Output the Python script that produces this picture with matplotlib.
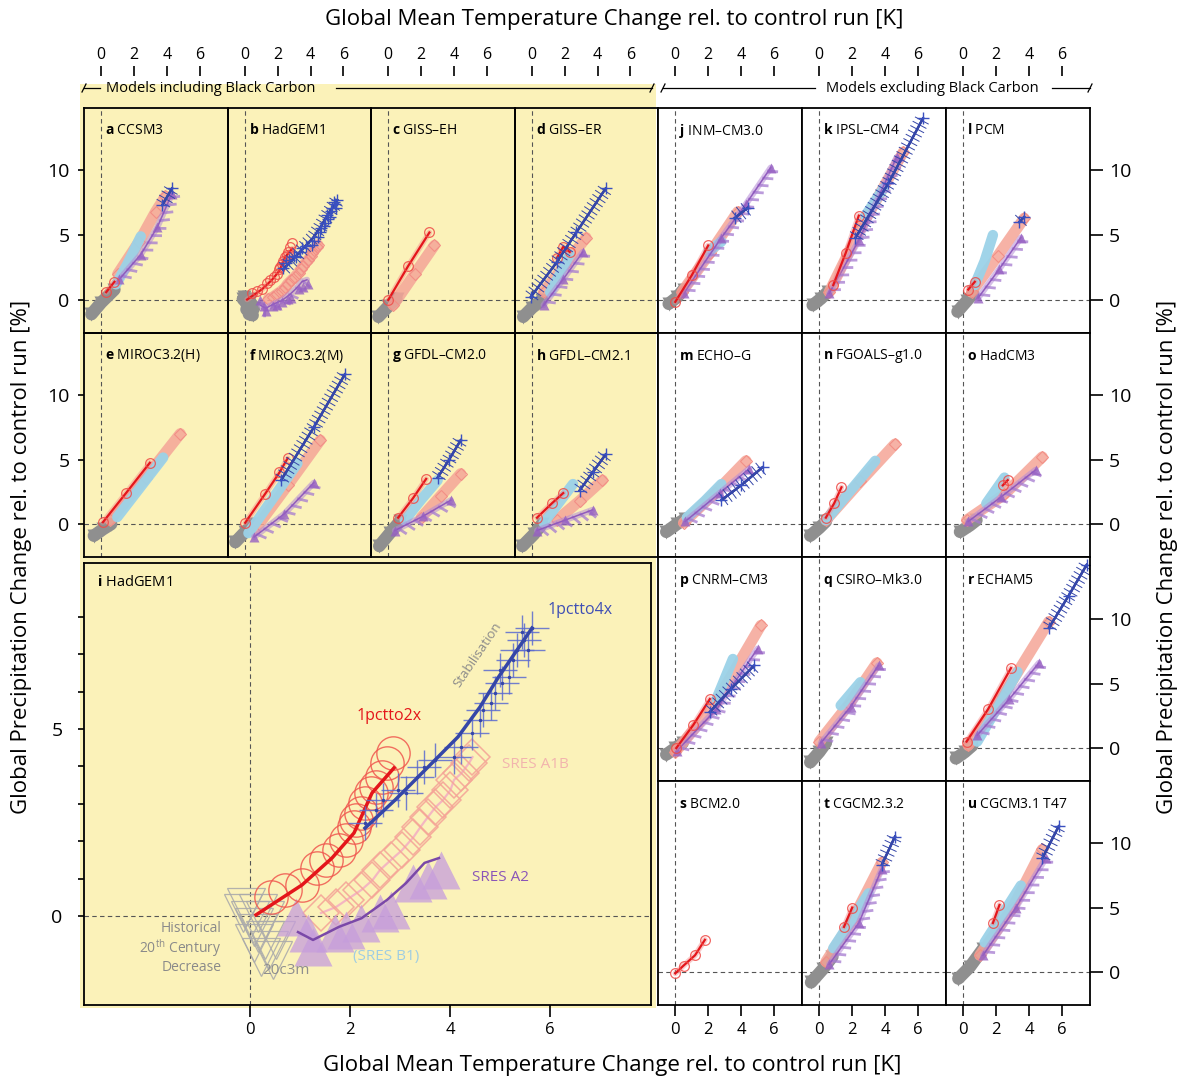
import matplotlib
matplotlib.use("Agg")
import matplotlib.pyplot as plt
from matplotlib import patheffects as pe

plt.rcParams['font.family'] = ['Open Sans', 'DejaVu Sans']
plt.rcParams['mathtext.fontset'] = 'custom'
plt.rcParams['mathtext.rm'] = 'Open Sans'
plt.rcParams['mathtext.bf'] = 'Open Sans:bold'

# model per panel
models = {'a': 'CCSM3', 'b': 'HadGEM1', 'c': 'GISS–EH', 'd': 'GISS–ER',
          'e': 'MIROC3.2(H)', 'f': 'MIROC3.2(M)', 'g': 'GFDL–CM2.0', 'h': 'GFDL–CM2.1',
          'j': 'INM–CM3.0', 'k': 'IPSL–CM4', 'l': 'PCM',
          'm': 'ECHO–G', 'n': 'FGOALS–g1.0', 'o': 'HadCM3',
          'p': 'CNRM–CM3', 'q': 'CSIRO–Mk3.0', 'r': 'ECHAM5',
          's': 'BCM2.0', 't': 'CGCM2.3.2', 'u': 'CGCM3.1 T47'}

# (dT [K], dP [%]) tracks per model and scenario
c20 = {
    'a': [(-0.6, -1.1), (0.0, -0.2), (0.8, 0.8)],
    'c': [(-0.6, -1.3), (0.0, -0.5), (0.5, 0.1)],
    'd': [(-0.55, -1.3), (0.0, -0.6), (0.6, 0.0)],
    'e': [(-0.45, -0.9), (0.1, -0.4), (0.6, 0.0)],
    'f': [(-0.6, -1.4), (0.0, -0.6), (0.5, 0.0)],
    'g': [(-0.55, -1.7), (0.1, -0.7), (0.7, 0.2)],
    'h': [(-0.6, -1.7), (0.1, -0.8), (0.6, 0.0)],
    'j': [(-0.4, -0.3), (0.1, 0.2), (0.5, 0.8)],
    'k': [(-0.4, -0.4), (0.1, 0.1), (0.5, 0.6)],
    'l': [(-0.35, -0.9), (0.2, -0.1), (0.6, 0.5)],
    'm': [(-0.55, -0.6), (0.1, 0.0), (0.6, 0.4)],
    'n': [(-0.55, -0.9), (0.0, -0.3), (0.4, 0.2)],
    'o': [(-0.2, -0.6), (0.4, -0.1), (0.8, 0.3)],
    'p': [(-0.55, -0.5), (0.0, 0.0), (0.45, 0.4)],
    'q': [(-0.55, -1.1), (0.0, -0.3), (0.4, 0.4)],
    'r': [(-0.45, -0.8), (0.1, -0.3), (0.55, 0.2)],
    't': [(-0.5, -0.8), (0.2, 0.2), (0.8, 1.2)],
    'u': [(-0.3, -0.5), (0.4, 0.4), (1.2, 1.8)],
}
pct2x = {
    'a': [(0.3, 0.6), (0.8, 1.4)],
    'c': [(0.0, 0.0), (1.2, 2.6), (2.5, 5.2)],
    'd': [(1.5, 3.2), (1.9, 4.1), (2.3, 3.7)],
    'e': [(0.1, 0.15), (1.5, 2.4), (2.95, 4.75)],
    'f': [(0.0, 0.1), (1.2, 2.3), (2.1, 4.0), (2.6, 5.1)],
    'g': [(0.6, 0.5), (1.5, 2.0), (2.3, 3.5)],
    'h': [(0.3, 0.5), (1.2, 1.6), (1.9, 2.4)],
    'j': [(0.0, -0.15), (1.0, 1.9), (2.0, 4.2)],
    'k': [(0.85, 1.15), (1.6, 3.6), (2.4, 6.5)],
    'l': [(0.3, 0.8), (0.7, 1.4)],
    'n': [(0.4, 0.5), (0.9, 1.6), (1.35, 2.85)],
    'o': [(2.4, 3.0), (2.7, 3.4)],
    'p': [(0.06, 0.0), (1.1, 1.8), (2.1, 3.8)],
    'r': [(0.2, 0.5), (1.5, 3.0), (2.9, 6.2)],
    's': [(0.0, -0.1), (0.5, 0.5), (1.2, 1.3), (1.8, 2.5)],
    't': [(1.5, 3.5), (2.0, 5.0)],
    'u': [(1.8, 3.8), (2.2, 5.2)],
}
pct4x = {
    'a': [(3.7, 7.3), (4.3, 8.6)],
    'd': [(-0.1, 0.2), (1.5, 2.9), (2.7, 5.2), (4.5, 8.6)],
    'f': [(2.2, 3.4), (4.2, 7.5), (6.1, 11.6)],
    'g': [(3.0, 3.6), (3.7, 5.0), (4.4, 6.5)],
    'h': [(2.9, 2.6), (3.7, 4.0), (4.5, 5.4)],
    'j': [(3.6, 6.3), (4.4, 7.1)],
    'k': [(2.2, 4.8), (4.2, 9.0), (6.3, 14.0)],
    'l': [(3.4, 6.0), (3.7, 6.4)],
    'm': [(2.8, 1.85), (4.0, 3.0), (5.3, 4.4)],
    'p': [(2.1, 2.8), (3.4, 4.6), (4.8, 6.4)],
    'r': [(5.2, 9.3), (6.4, 11.8), (7.5, 14.2)],
    't': [(3.8, 8.3), (4.6, 10.5)],
    'u': [(4.8, 8.8), (5.8, 11.3)],
}
a1b = {
    'a': [(1.0, 2.0), (2.3, 4.5), (3.3, 6.8), (3.9, 8.0)],
    'c': [(0.3, -0.4), (1.6, 2.0), (2.8, 4.2)],
    'd': [(0.7, 0.6), (2.0, 2.7), (3.3, 4.8)],
    'e': [(0.55, 0.3), (2.7, 3.6), (4.8, 7.0)],
    'f': [(0.55, -0.5), (2.6, 3.0), (4.6, 6.5)],
    'g': [(2.0, 0.5), (3.2, 2.2), (4.4, 3.9)],
    'h': [(1.5, 0.3), (2.9, 1.8), (4.3, 3.4)],
    'j': [(0.4, 0.6), (2.1, 3.6), (3.8, 6.8)],
    'k': [(0.6, 0.6), (2.5, 5.5), (5.1, 11.4)],
    'l': [(0.5, 0.6), (2.1, 3.4), (3.7, 6.3)],
    'm': [(0.5, 0.1), (2.4, 2.4), (4.3, 4.9)],
    'n': [(0.4, 0.3), (2.5, 3.3), (4.6, 6.2)],
    'o': [(0.2, 0.3), (2.5, 2.3), (4.8, 5.2)],
    'p': [(0.0, -0.3), (2.4, 3.4), (5.2, 9.5)],
    'q': [(0.0, 0.5), (1.8, 3.4), (3.5, 6.6)],
    'r': [(0.3, 0.2), (2.4, 4.0), (5.2, 9.8)],
    't': [(0.4, 0.8), (2.0, 4.0), (3.8, 8.5)],
    'u': [(1.0, 1.3), (3.0, 5.0), (4.8, 9.5)],
}
a2 = {
    'a': [(1.1, 1.6), (2.4, 3.5), (3.4, 5.6), (4.3, 8.2)],
    'd': [(0.7, -0.4), (1.9, 1.6), (3.1, 3.7)],
    'f': [(0.55, -1.0), (2.4, 0.8), (4.2, 3.2)],
    'g': [(0.4, -0.5), (2.1, 0.6), (3.8, 1.85)],
    'h': [(0.3, -0.5), (2.0, 0.3), (3.7, 1.1)],
    'j': [(0.5, 0.5), (2.8, 4.8), (4.3, 7.4), (5.8, 10.2)],
    'k': [(0.6, 0.5), (2.4, 4.6), (4.7, 11.0)],
    'l': [(0.9, 0.15), (2.2, 2.4), (3.5, 4.8)],
    'm': [(0.6, 0.2), (2.7, 2.4), (4.5, 4.3)],
    'o': [(0.3, 0.2), (2.3, 2.1), (4.4, 4.2)],
    'p': [(0.1, -0.2), (2.5, 3.0), (5.0, 7.7)],
    'q': [(0.1, 0.4), (1.9, 3.2), (3.6, 6.4)],
    'r': [(0.85, 1.0), (2.8, 3.8), (4.6, 6.6)],
    't': [(0.6, 0.6), (2.4, 3.8), (3.8, 8.0)],
    'u': [(1.2, 1.3), (3.2, 5.0), (5.0, 8.8)],
}
b1 = {
    'a': [(0.9, 1.2), (1.6, 2.8), (2.4, 4.9)],
    'd': [(1.1, 0.6), (1.7, 2.0), (2.3, 3.5)],
    'e': [(0.97, 0.54), (2.4, 2.9), (3.76, 5.15)],
    'f': [(0.2, -0.7), (1.7, 2.0), (3.2, 4.7)],
    'g': [(1.0, 0.3), (2.0, 1.9), (3.0, 3.4)],
    'h': [(0.7, 0.1), (1.6, 1.6), (2.5, 3.1)],
    'j': [(2.0, 3.7), (2.8, 4.5)],
    'k': [(2.8, 6.5), (3.9, 8.6)],
    'l': [(0.7, 1.15), (1.3, 3.0), (1.8, 5.0)],
    'm': [(0.7, 0.5), (1.8, 1.8), (2.8, 3.1)],
    'n': [(0.4, 0.3), (1.9, 2.6), (3.4, 4.9)],
    'o': [(1.4, 1.6), (2.5, 3.6)],
    'p': [(2.5, 3.8), (3.5, 6.9)],
    'q': [(1.3, 3.3), (2.5, 5.1)],
    'r': [(0.85, 0.5), (2.1, 3.2), (3.3, 5.9)],
    't': [(0.85, 1.85), (1.9, 3.9), (3.0, 6.1)],
    'u': [(1.3, 2.3), (2.4, 4.5), (3.5, 6.7)],
}

# HadGEM1 (panels b and i), one marker per decade
hg_c20 = [(-0.14, 0.07), (0.0, -0.12), (0.08, -0.29), (0.16, -0.46), (0.30, -0.64),
          (0.08, -0.73), (0.38, -0.91), (0.23, -1.09), (0.46, -1.18), (-0.07, 0.25),
          (0.16, 0.07), (0.30, -0.12), (0.52, -0.64)]
hg_x2_line = [(0.12, 0.03), (1.04, 0.83), (1.64, 1.55), (2.08, 2.22), (2.44, 3.29), (2.88, 3.96)]
hg_x2_pts = [(0.42, 0.51), (0.71, 0.70), (1.04, 0.83), (1.34, 1.28), (1.53, 1.50), (1.79, 1.76),
             (1.93, 2.03), (2.08, 2.38), (2.12, 2.57), (2.23, 2.75), (2.30, 3.02), (2.42, 3.29),
             (2.53, 3.45), (2.64, 3.72), (2.74, 4.09), (2.86, 4.36)]
hg_x4_line = [(2.30, 2.35), (2.9, 3.1), (3.64, 4.09), (4.16, 4.79), (4.6, 5.59), (4.97, 6.39),
              (5.34, 7.11), (5.64, 7.7)]
hg_x4_pts = [(2.30, 2.49), (2.52, 2.83), (2.67, 3.10), (2.97, 3.37), (3.12, 3.29), (3.34, 3.72),
             (3.49, 3.98), (3.71, 4.17), (4.08, 4.25), (4.23, 4.52), (4.45, 4.89), (4.60, 5.24),
             (4.67, 5.51), (4.82, 5.70), (4.90, 5.96), (5.04, 6.23), (5.01, 6.58), (5.19, 6.39),
             (5.27, 6.84), (5.34, 7.11), (5.49, 7.38), (5.56, 7.11), (5.64, 7.70), (5.45, 7.59)]
hg_a1b_pts = [(1.42, 0.08), (1.72, 0.24), (1.93, 0.43), (2.23, 0.70), (2.45, 0.96), (2.60, 1.23),
              (2.82, 1.50), (3.04, 1.76), (3.27, 2.11), (3.41, 2.38), (3.56, 2.65), (3.71, 2.91),
              (3.86, 3.10), (4.01, 3.37), (4.08, 3.64), (4.23, 3.82), (4.38, 4.09), (4.45, 4.25)]
hg_a2_line = [(0.96, -0.43), (1.26, -0.64), (1.78, -0.29), (2.23, -0.06), (2.74, 0.43),
              (3.12, 0.88), (3.49, 1.42), (3.78, 1.55)]
hg_a2_pts = [(0.93, -0.02), (1.16, -0.46), (1.27, -0.82), (1.71, -0.46), (1.93, -0.37),
             (2.23, -0.19), (2.60, 0.07), (2.82, 0.16), (3.27, 0.88), (3.56, 0.96), (3.82, 1.23)]

YELLOW = '#fbf2b9'
GREY = '#8f8f8f'
RED = '#e4161b'
BLUE = '#3546a8'
SALMON = '#f5a597'
PURPLE = '#8c55b8'
LBLUE = '#9bd2e8'

W, H = 1190, 1079
fig = plt.figure(figsize=(W / 100, H / 100), dpi=100)

bg = fig.add_axes([0, 0, 1, 1], zorder=0)
bg.set_xlim(0, W)
bg.set_ylim(H, 0)
bg.axis('off')
bg.add_patch(plt.Rectangle((80, 84), 576, 924, color=YELLOW, lw=0))


def px_axes(x0, y0, x1, y1, **kw):
    return fig.add_axes([x0 / W, 1 - y1 / H, (x1 - x0) / W, (y1 - y0) / H], zorder=1, **kw)


def xy(pts):
    return [p[0] for p in pts], [p[1] for p in pts]


def ribbon(ax, pts, color, lw, alpha=1.0):
    x, y = xy(pts)
    ax.plot(x, y, color=color, lw=lw, alpha=alpha, solid_capstyle='round',
            solid_joinstyle='round')


# "+" chains and triangle fringes along the small-panel tracks
cross_fx = [pe.withTickedStroke(angle=90, spacing=3.5, length=1.5, linewidth=0.7),
            pe.withTickedStroke(angle=-90, spacing=3.5, length=1.5, linewidth=0.7),
            pe.Normal()]
tri_fx = [pe.withTickedStroke(angle=-60, spacing=6, length=1.0, linewidth=2.0)]


def draw_small(ax, key):
    if key == 'b':
        tr = dict(c20=hg_c20, x2=hg_x2_line, x2p=hg_x2_pts, x4=hg_x4_line, x4p=hg_x4_pts,
                  a1b=hg_a1b_pts, a2=hg_a2_line, a2p=hg_a2_pts, b1=None)
    else:
        tr = dict(c20=c20.get(key), x2=pct2x.get(key), x2p=pct2x.get(key),
                  x4=pct4x.get(key), x4p=pct4x.get(key), a1b=a1b.get(key),
                  a2=a2.get(key), a2p=a2.get(key), b1=b1.get(key))
    if tr['c20']:
        ribbon(ax, tr['c20'], GREY, 9)
        x, y = xy(tr['c20'])
        ax.plot(x, y, 'v', ms=10, mfc=GREY, mec='none')
    if tr['a1b']:
        ribbon(ax, tr['a1b'], SALMON, 8, 0.85)
        x, y = xy(tr['a1b'])
        ax.plot(x, y, 'D', ms=6, mfc='none', mec='#f28f86', mew=0.8)
    if tr['b1']:
        ribbon(ax, tr['b1'], LBLUE, 7.5, 0.95)
    if tr['a2']:
        ribbon(ax, tr['a2'], '#b58ad6', 4.5, 0.55)
        x, y = xy(tr['a2'])
        ax.plot(x, y, color='#a57ad0', lw=0.5, alpha=0.75, path_effects=tri_fx)
        ax.plot(x, y, color='#8a52ba', lw=1.1, alpha=0.85)
        x, y = xy(tr['a2p'])
        ax.plot(x, y, '^', ms=7, mfc='#9660c2', mec='none', alpha=0.8)
    if tr['x2']:
        ribbon(ax, tr['x2'], '#f58a8a', 4, 0.45)
        x, y = xy(tr['x2'])
        ax.plot(x, y, color=RED, lw=1.6)
        x, y = xy(tr['x2p'])
        ax.plot(x, y, 'o', ms=7, mfc='none', mec='#ef4b47', mew=0.9, alpha=0.85)
    if tr['x4']:
        x, y = xy(tr['x4'])
        ax.plot(x, y, color=BLUE, lw=1.6, path_effects=cross_fx)
        x, y = xy(tr['x4p'])
        ax.plot(x, y, '+', ms=9, mec='#3a50c0', mew=1.0)


def style_axes(ax):
    for s in ax.spines.values():
        s.set_linewidth(1.3)
    ax.tick_params(which='both', left=False, right=False, top=False, bottom=False,
                   labelleft=False, labelbottom=False, width=1.2)
    ax.axvline(0, color='#555555', lw=0.8, ls=(0, (4, 3)), zorder=0.5)
    ax.axhline(0, color='#555555', lw=0.8, ls=(0, (4, 3)), zorder=0.5)
    ax.set_xticks([0, 2, 4, 6])


cols = [84, 228, 371, 515, 658, 802, 946, 1090]
rows = [108, 333, 557, 781, 1005]
layout = {'a': (0, 0), 'b': (1, 0), 'c': (2, 0), 'd': (3, 0),
          'e': (0, 1), 'f': (1, 1), 'g': (2, 1), 'h': (3, 1),
          'j': (4, 0), 'k': (5, 0), 'l': (6, 0),
          'm': (4, 1), 'n': (5, 1), 'o': (6, 1),
          'p': (4, 2), 'q': (5, 2), 'r': (6, 2),
          's': (4, 3), 't': (5, 3), 'u': (6, 3)}

for key, (c, r) in layout.items():
    face = 'none' if c < 4 else 'white'
    ax = px_axes(cols[c], rows[r], cols[c + 1], rows[r + 1], facecolor=face)
    ax.set_xlim(-1.05, 7.7)
    ax.set_ylim(-2.55, 14.8)
    style_axes(ax)
    draw_small(ax, key)
    ax.annotate(r'$\mathbf{%s}$ %s' % (key, models[key]), xy=(0, 1), xycoords='axes fraction',
                xytext=(21, -23), textcoords='offset pixels', ha='left', va='center',
                fontsize=10)
    if r == 0:
        sec = ax.secondary_xaxis(1 + 32 / 225)
        sec.set_xticks([0, 2, 4, 6])
        sec.spines['top'].set_visible(False)
        sec.tick_params(length=7, width=1.2, labelsize=11.5, pad=2)
    if c == 0:
        ax.set_yticks([0, 5, 10])
        ax.tick_params(axis='y', left=True, labelleft=True, length=4.5, labelsize=14, pad=6)
    if c == 6:
        ax.set_yticks([0, 5, 10])
        ax.yaxis.tick_right()
        ax.tick_params(axis='y', right=True, labelright=True, left=False, length=9.5,
                       labelsize=14, pad=4)
    if r == 3:
        ax.tick_params(axis='x', bottom=True, labelbottom=True, length=8, labelsize=12, pad=4)

# enlarged HadGEM1 panel
ax = px_axes(84, 563, 651, 1005, facecolor='none')
ax.set_xlim(-3.32, 8.02)
ax.set_ylim(-2.38, 9.44)
style_axes(ax)
ax.set_yticks([0, 5])
ax.set_yticks(range(0, 9), minor=True)
ax.tick_params(axis='y', which='both', left=True, labelleft=True, length=4.5, labelsize=14, pad=11)
ax.tick_params(axis='x', bottom=True, labelbottom=True, length=8.5, labelsize=12, pad=4)

x, y = xy(hg_c20)
ax.plot(x, y, 'v', ms=27, mfc='none', mec='#ababab', mew=0.9, alpha=0.9)
x, y = xy(hg_a1b_pts)
ax.plot(x, y, color='#f3a8c4', lw=1.6, alpha=0.8)
ax.plot(x, y, 'D', ms=18, mfc='none', mec='#f5a597', mew=1.1, alpha=0.9)
x, y = xy(hg_a2_pts)
ax.plot(x, y, '^', ms=28, mfc='#c69ddc', mec='none', alpha=0.75)
x, y = xy(hg_a2_line)
ax.plot(x, y, color='#7a48a8', lw=1.8)
x, y = xy(hg_x2_pts)
ax.plot(x, y, 'o', ms=24, mfc='none', mec='#f0584f', mew=1.0, alpha=0.85)
x, y = xy(hg_x2_line)
ax.plot(x, y, color=RED, lw=2.5)
x, y = xy(hg_x4_pts)
ax.plot(x, y, '+', ms=24, mec='#5a6ad0', mew=1.0, alpha=0.85)
ax.plot(x, y, '.', ms=3, color=BLUE)
x, y = xy(hg_x4_line)
ax.plot(x, y, color=BLUE, lw=2.5)

ax.annotate(r'$\mathbf{i}$ HadGEM1', xy=(0, 1), xycoords='axes fraction', xytext=(13, -20),
            textcoords='offset pixels', ha='left', va='center', fontsize=10.5)
ax.text(5.96, 8.18, '1pctto4x', color='#3f4fb5', fontsize=11.5, va='center')
ax.text(4.56, 6.98, 'Stabilisation', color='#8a8a8a', fontsize=9.5, rotation=56,
        ha='center', va='center')
ax.text(2.14, 5.35, '1pctto2x', color=RED, fontsize=11.5, va='center')
ax.text(5.04, 4.06, 'SRES A1B', color='#f2b4ae', fontsize=11, va='center')
ax.text(4.44, 1.04, 'SRES A2', color='#8a55b8', fontsize=11, va='center')
ax.text(2.06, -1.07, '(SRES B1)', color='#9fcde2', fontsize=11, va='center')
ax.text(0.24, -1.47, '20c3m', color='#8f8f8f', fontsize=11, va='center')
ax.text(-0.56, -0.86, 'Historical\n20$^{\\mathrm{th}}$ Century\nDecrease', color='#8a8a8a',
        fontsize=10, ha='right', va='center', multialignment='right', linespacing=1.1)

# axis titles
title = 'Global Mean Temperature Change rel. to control run [K]'
ylab = 'Global Precipitation Change rel. to control run [%]'
bg.text(614, 20, title, fontsize=16, ha='center', va='center')
bg.text(612, 1066, title, fontsize=16, ha='center', va='center')
bg.text(22, 557, ylab, fontsize=16, ha='center', va='center', rotation=90)
bg.text(1168, 557, ylab, fontsize=16, ha='center', va='center', rotation=90)

# model group brackets
for x0, x1 in [(84, 100), (336, 652), (663, 815), (1052, 1090)]:
    bg.plot([x0, x1], [88, 88], color='black', lw=0.9)
for xe in [84, 652, 663, 1090]:
    bg.plot([xe - 2, xe + 2], [92, 84], color='black', lw=0.9)
bg.text(106, 88, 'Models including Black Carbon', fontsize=10.5, va='center', ha='left')
bg.text(826, 88, 'Models excluding Black Carbon', fontsize=10.5, va='center', ha='left')

fig.savefig('out.png', dpi=100)
